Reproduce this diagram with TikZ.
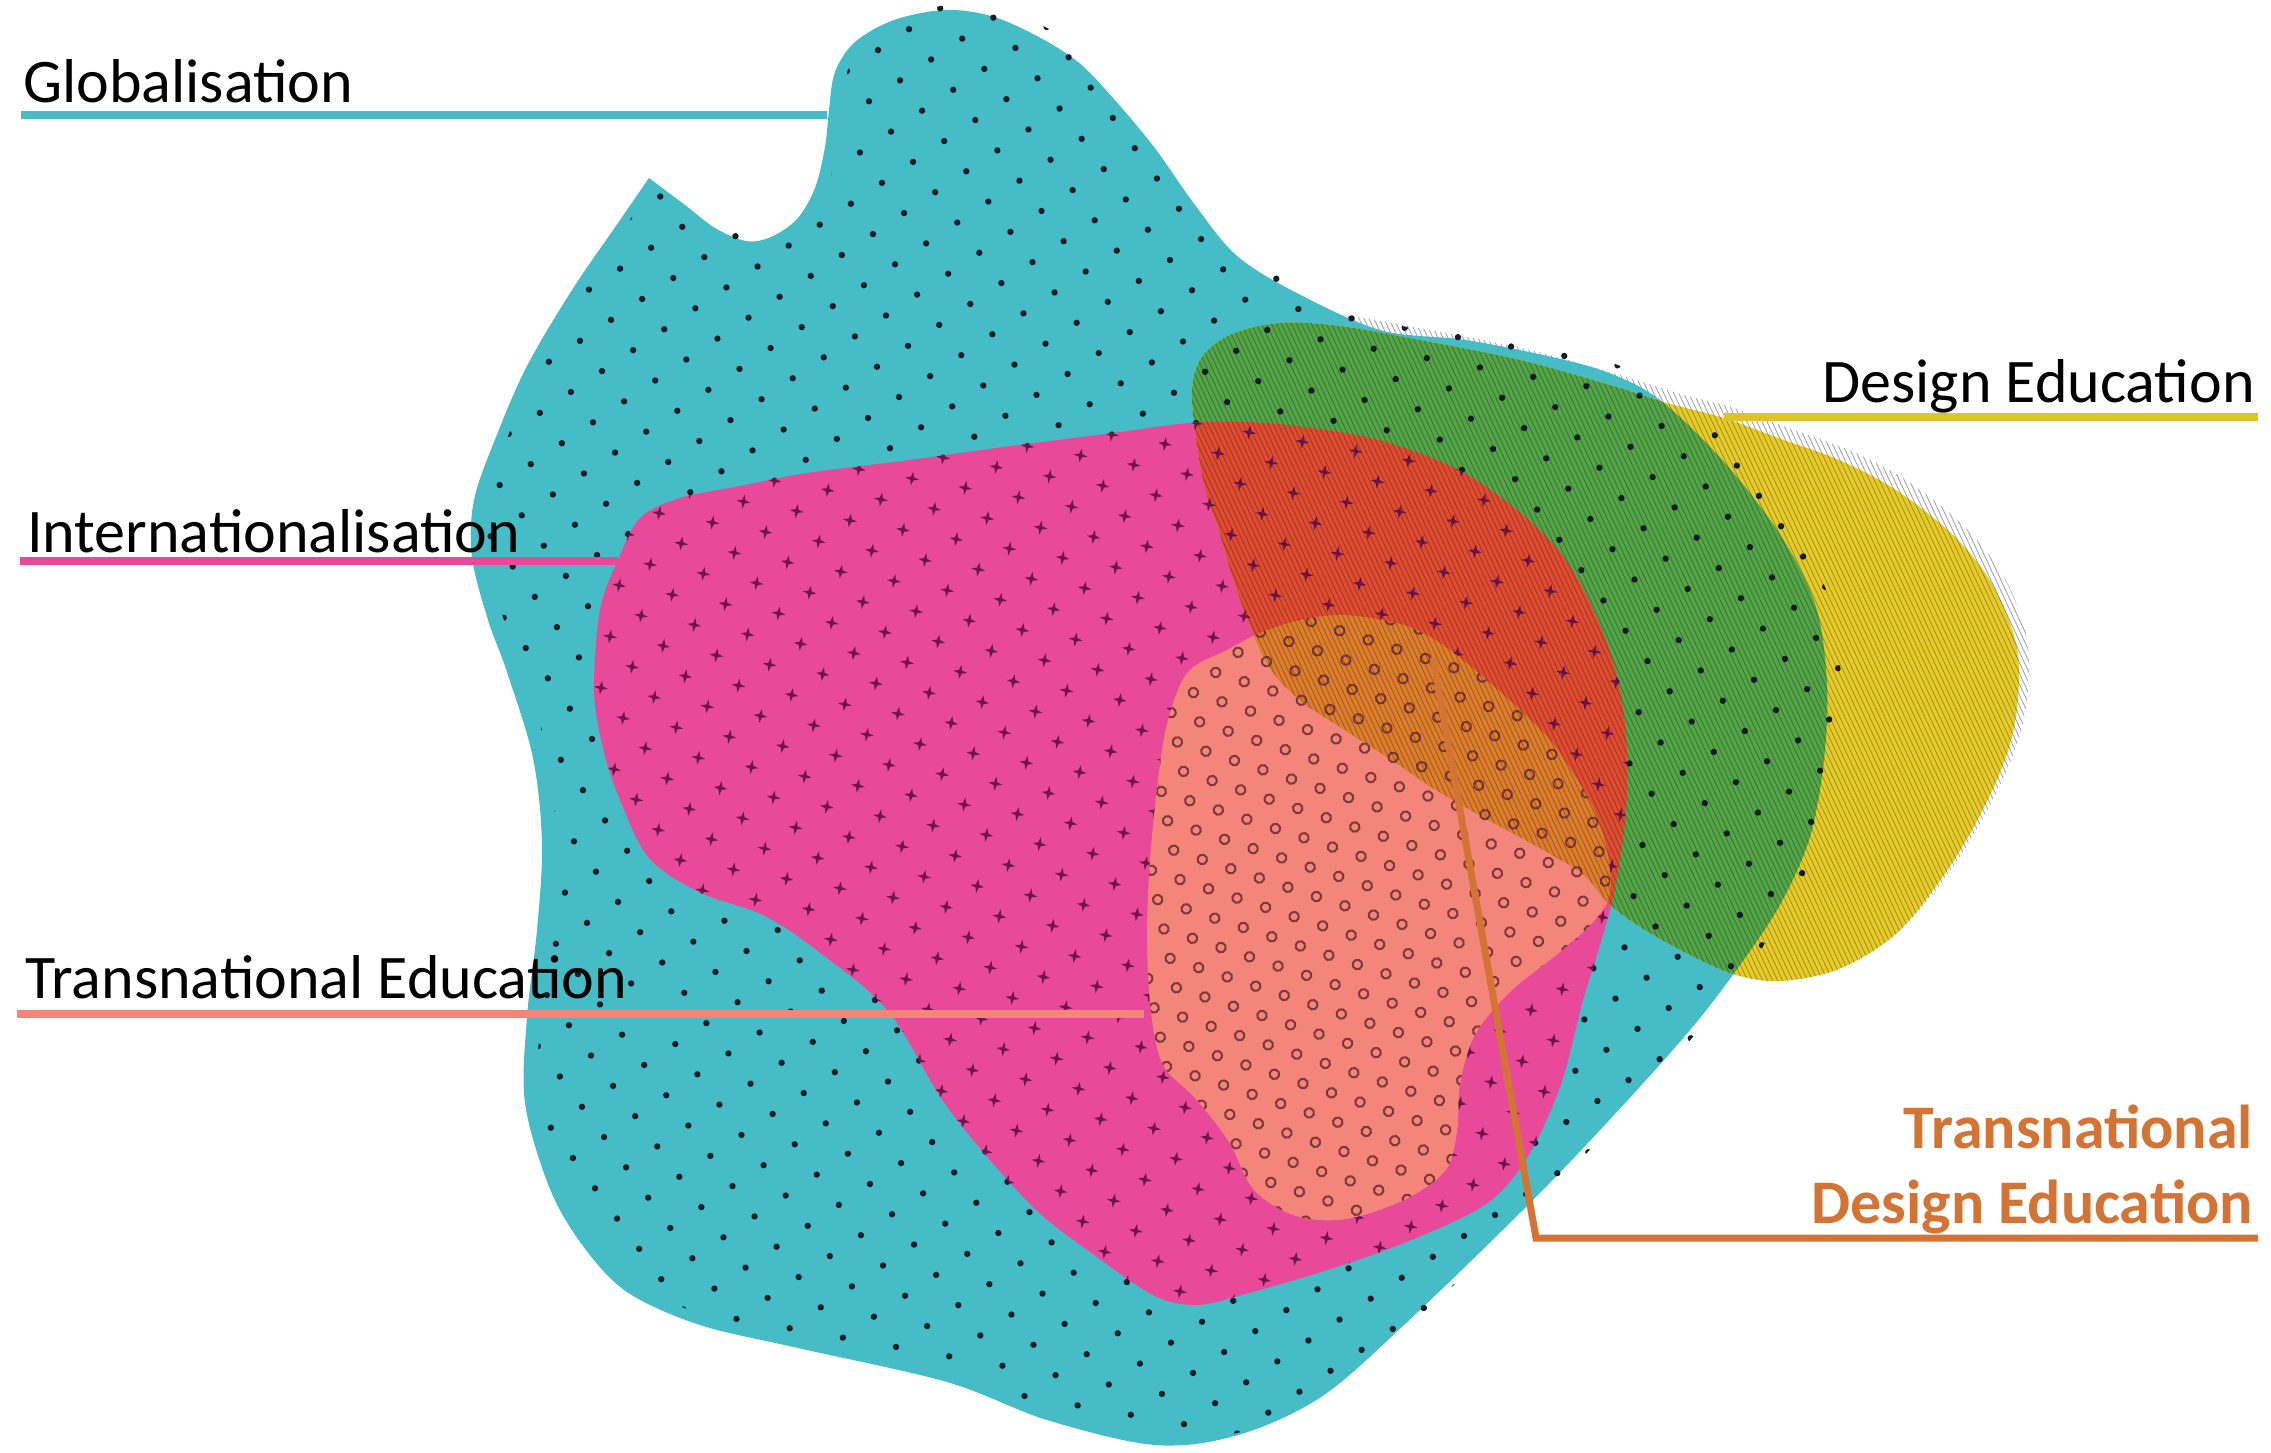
\documentclass[tikz,border=0pt]{standalone}
\usepackage{fontspec}
\setmainfont{Carlito}
\usetikzlibrary{patterns.meta}

\definecolor{globcol}{RGB}{70,189,198}
\definecolor{intcol}{RGB}{233,73,153}
\definecolor{tnecol}{RGB}{243,133,123}
\definecolor{descol}{RGB}{230,203,42}
\definecolor{greencol}{RGB}{84,164,72}
\definecolor{redcol}{RGB}{224,76,50}
\definecolor{orangecol}{RGB}{222,126,44}
\definecolor{deslinecol}{RGB}{222,196,40}
\definecolor{tdecol}{RGB}{212,116,52}
\definecolor{dotcol}{RGB}{20,30,40}
\definecolor{starcol}{RGB}{112,20,76}
\definecolor{ringcol}{RGB}{126,56,56}
\definecolor{fringecol}{RGB}{90,90,120}

\tikzdeclarepattern{
  name=globdots, type=uncolored,
  bounding box={(-4pt,-4pt) and (31pt,30pt)},
  tile size={(54pt,52pt)},
  tile transformation={rotate=-10},
  code={\fill (0pt,0pt) circle (3.2pt); \fill (27pt,26pt) circle (3.2pt);}
}
\tikzdeclarepattern{
  name=intstars, type=uncolored,
  bounding box={(-8pt,-8pt) and (35pt,34pt)},
  tile size={(54pt,52pt)},
  tile transformation={rotate=-10},
  code={
    \fill (0pt,7pt) -- (1.6pt,1.6pt) -- (7pt,0pt) -- (1.6pt,-1.6pt) -- (0pt,-7pt)
      -- (-1.6pt,-1.6pt) -- (-7pt,0pt) -- (-1.6pt,1.6pt) -- cycle;
    \fill (27pt,33pt) -- (28.6pt,27.6pt) -- (34pt,26pt) -- (28.6pt,24.4pt) -- (27pt,19pt)
      -- (25.4pt,24.4pt) -- (20pt,26pt) -- (25.4pt,27.6pt) -- cycle;
  }
}
\tikzdeclarepattern{
  name=tnerings, type=uncolored,
  bounding box={(-7pt,-7pt) and (22pt,33pt)},
  tile size={(30pt,52pt)},
  tile transformation={rotate=-18},
  code={\draw[line width=2pt] (0pt,0pt) circle (4.8pt) (15pt,26pt) circle (4.8pt);}
}

\newcommand\globpath{plot[smooth,tension=.55] coordinates {(649,178) (685,205) (715,228)
  (746,241) (771,237) (797,219) (815,188) (825,147) (829,110) (835,72) (855,42) (894,20)
  (945,10) (991,16) (1037,36) (1078,62) (1113,98) (1154,147) (1195,205) (1236,255)
  (1293,291) (1380,330) (1466,340) (1552,357) (1609,373) (1660,400) (1724,462) (1781,536)
  (1816,607) (1827,684) (1824,760) (1810,837) (1781,903) (1740,965) (1690,1030)
  (1614,1115) (1528,1205) (1404,1325) (1321,1397) (1238,1435) (1155,1445) (1047,1420)
  (947,1382) (798,1348) (700,1325) (627,1292) (583,1246) (550,1189) (525,1103)
  (527,1017) (537,930) (542,844) (533,758) (507,672) (488,620) (472,557) (474,500)
  (496,437) (527,366) (572,290) (618,223) (649,178)} -- cycle}
\newcommand\intpath{plot[smooth cycle,tension=.55] coordinates {(618,560) (640,518)
  (680,498) (740,486) (807,473) (909,460) (1011,446) (1113,433) (1190,423) (1265,423)
  (1351,434) (1408,449) (1466,474) (1523,515) (1563,556) (1592,607) (1615,668)
  (1626,735) (1626,811) (1615,888) (1600,945) (1583,1000) (1561,1084) (1528,1156)
  (1486,1204) (1404,1243) (1321,1272) (1238,1296) (1196,1305) (1155,1296) (1097,1257)
  (1030,1204) (948,1108) (889,1012) (823,955) (765,916) (699,892) (649,858) (620,800)
  (603,748) (594,690) (600,610)}}
\newcommand\tnepath{plot[smooth cycle,tension=.55] coordinates {(1188,672) (1227,650)
  (1260,633) (1300,620) (1340,615) (1383,620) (1417,630) (1450,650) (1483,677)
  (1517,707) (1550,740) (1573,773) (1593,807) (1607,850) (1610,893) (1595,920)
  (1560,952) (1510,992) (1475,1035) (1460,1084) (1457,1132) (1445,1171) (1404,1200)
  (1346,1219) (1296,1216) (1254,1190) (1229,1142) (1196,1099) (1163,1065) (1151,1012)
  (1147,940) (1150,860) (1158,780) (1168,720)}}
\newcommand\despath{plot[smooth cycle,tension=.55] coordinates {(1192,400) (1200,360)
  (1230,335) (1280,323) (1340,326) (1420,340) (1520,360) (1610,385) (1667,403)
  (1724,418) (1781,439) (1839,460) (1896,490) (1954,536) (1994,587) (2017,648)
  (2017,709) (2005,760) (1977,821) (1942,878) (1896,934) (1839,969) (1781,981)
  (1736,975) (1690,955) (1645,930) (1610,905) (1583,874) (1533,844) (1483,817)
  (1433,788) (1395,762) (1350,733) (1300,700) (1270,668) (1252,630) (1235,585)
  (1219,531) (1203,480)}}

\newcommand\globlayer[1]{%
  \fill[#1] \globpath;
  \fill[pattern=globdots, pattern color=dotcol] [shift={(14,-6)}] \globpath;}
\newcommand\intlayer[1]{%
  \fill[#1] \intpath;
  \fill[pattern=intstars, pattern color=starcol] \intpath;}
\newcommand\tnelayer[1]{%
  \fill[#1] \tnepath;
  \fill[pattern=tnerings, pattern color=ringcol] \tnepath;}

\begin{document}
\begin{tikzpicture}[x=1pt,y=-1pt]
  \tikzset{
    lbl/.style={font=\fontsize{62}{68}\selectfont, inner sep=0pt},
    tdelbl/.style={lbl, font=\fontsize{62}{68}\selectfont\bfseries, text=tdecol},
    lead/.style={line width=8pt},
    hatchline/.style={line width=.8pt, draw=black, draw opacity=.3},
    fringeline/.style={line width=.8pt, draw=fringecol, draw opacity=.6}
  }
  \fill[white] (0,0) rectangle (2271,1453);
  \useasboundingbox (0,0) rectangle (2271,1453);

  \begin{scope}
    \clip[shift={(10,-10)}] \despath;
    \foreach \k in {0,...,250}
      \draw[fringeline] (817+5*\k,250) -- (1190+5*\k,1050);
  \end{scope}
  \globlayer{globcol}
  \intlayer{intcol}
  \tnelayer{tnecol}
  \begin{scope}
    \clip \despath;
    \fill[descol] (1100,250) rectangle (2100,1050);
    \globlayer{greencol}
    \intlayer{redcol}
    \tnelayer{orangecol}
    \foreach \k in {0,...,250}
      \draw[hatchline] (817+5*\k,250) -- (1190+5*\k,1050);
  \end{scope}

  \coordinate (globL) at (21,115);
  \coordinate (globR) at (827,115);
  \coordinate (intL)  at (20,561);
  \coordinate (intR)  at (618,561);
  \coordinate (tneL)  at (17,1014);
  \coordinate (tneR)  at (1144,1014);
  \coordinate (desL)  at (1724,417);
  \coordinate (desR)  at (2258,417);
  \coordinate (tdeA)  at (1433,658);
  \coordinate (tdeB)  at (1536,1238);
  \coordinate (tdeC)  at (2258,1238);

  \path[lead]
    (globL) edge[globcol] (globR)
    (intL) edge[intcol] (intR)
    (tneL) edge[tnecol] (tneR)
    (desL) edge[deslinecol] (desR);
  \draw[lead, tdecol, line width=7pt, line join=miter] (tdeA) -- (tdeB) -- (tdeC);

  \node[lbl, anchor=base west] (globlbl) at (23,103)  {Globalisation};
  \node[lbl, anchor=base west] (intlbl)  at (27,552)  {Internationalisation};
  \node[lbl, anchor=base west] (tnelbl)  at (25,998)  {Transnational Education};
  \node[lbl, anchor=base east] (deslbl)  at (2255,402) {Design Education};
  \node[tdelbl, anchor=base east] (tdelblA) at (2253,1148) {Transnational};
  \node[tdelbl, anchor=base east] (tdelblB) at (2253,1223) {Design Education};
\end{tikzpicture}
\end{document}
